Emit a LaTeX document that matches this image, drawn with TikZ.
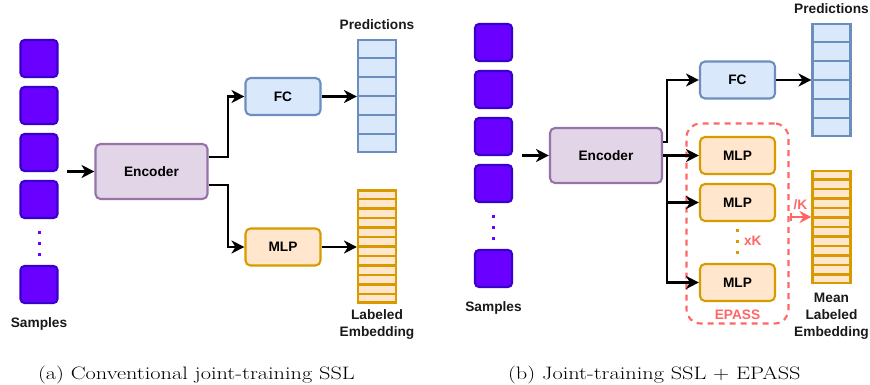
\documentclass[tikz,border=0pt]{standalone}
\usepackage{fontspec}
\newfontfamily\lblfont{Liberation Sans}
\usetikzlibrary{arrows.meta, positioning, calc}
\definecolor{sampfill}{HTML}{6A00FF}
\definecolor{sampline}{HTML}{3700CC}
\definecolor{encfill}{HTML}{E1D5E7}
\definecolor{encline}{HTML}{9673A6}
\definecolor{fcfill}{HTML}{DAE8FC}
\definecolor{fcline}{HTML}{6C8EBF}
\definecolor{mlpfill}{HTML}{FFE6CC}
\definecolor{mlpline}{HTML}{D79B00}
\definecolor{epred}{HTML}{FF6666}

\begin{document}
\begin{tikzpicture}[x=1pt, y=-1pt, line width=2.1pt,
    font=\lblfont\fontsize{13.7}{17}\selectfont\bfseries,
    sample/.style = {draw=sampline, fill=sampfill, rounded corners=4pt, minimum size=37pt, inner sep=0pt},
    block/.style = {draw, rounded corners=5pt, minimum width=75pt, minimum height=37pt, inner sep=0pt},
    enc/.style = {block, draw=encline, fill=encfill, minimum width=112pt, minimum height=55pt},
    fc/.style = {block, draw=fcline, fill=fcfill},
    mlp/.style = {block, draw=mlpline, fill=mlpfill},
    stack/.style = {draw, minimum width=38pt, minimum height=112pt, inner sep=0pt},
    lbl/.style = {align=center, inner sep=0pt, text=black!90},
    redlbl/.style = {inner sep=0pt, text=epred},
    arr/.style = {-{Stealth[length=13pt, width=13pt, inset=4pt]}},
    karr/.style = {draw=epred, {Bar[width=8pt]}-{Stealth[length=12pt, width=12pt, inset=4pt]}},
    epassbox/.style = {draw=epred, dash pattern=on 6pt off 5pt, rounded corners=14pt,
                       minimum width=102pt, minimum height=200pt, inner sep=0pt},
    caption/.style = {font=\normalfont\fontsize{18}{21}\selectfont, inner sep=0pt, anchor=base west}]
    \useasboundingbox (0,0) rectangle (870,385);

    % (a) conventional joint training
    \foreach \y [count=\i] in {58.5,105.5,152.5,199.5,284.5}
        \node[sample] (sA\i) at (39,\y) {};
    \foreach \y in {232,243,254}
        \fill[sampfill] (37.5,\y-1.5) rectangle ++(3,3);
    \node[lbl, below=12pt of sA5] (sampA) {Samples};

    \node[enc] (encA) at (151.5,171.5) {Encoder};
    \node[fc] (fcA) at (283,96.5) {FC};
    \node[mlp] (mlpA) at (283,247) {MLP};
    \node[stack, draw=fcline, fill=fcfill] (predA) at (377,96) {};
    \node[stack, draw=mlpline, fill=mlpfill] (embA) at (377,246.5) {};
    \node[lbl, above=8pt of predA] (predAlbl) {Predictions};
    \node[lbl, below=5pt of embA] (embAlbl) {Labeled\\Embedding};

    \coordinate (inA) at (67,171.5);
    \draw[arr] (inA) -- (encA.west);
    \draw[arr] ([yshift=14.5pt]encA.east) -- ++(19,0) |- (fcA.west);
    \draw[arr] ([yshift=-13.5pt]encA.east) -- ++(19,0) |- (mlpA.west);
    \draw[arr] (fcA.east) -- (fcA.east -| predA.west);
    \draw[arr] (mlpA.east) -- (mlpA.east -| embA.west);

    % (b) joint training + EPASS
    \foreach \y [count=\i] in {42.5,89.5,136.5,183.5,268.5}
        \node[sample] (sB\i) at (493.5,\y) {};
    \foreach \y in {216,227,238}
        \fill[sampfill] (492,\y-1.5) rectangle ++(3,3);
    \node[lbl, below=12pt of sB5] (sampB) {Samples};

    \node[enc] (encB) at (606,155.5) {Encoder};
    \node[epassbox] (epass) at (737.5,223.5) {};
    \node[redlbl, above=4pt of epass.south] (epasslbl) {EPASS};
    \node[fc] (fcB) at (737.5,80) {FC};
    \node[mlp] (mlpB1) at (737.5,155.5) {MLP};
    \node[mlp] (mlpB2) at (737.5,202.5) {MLP};
    \node[mlp] (mlpB3) at (737.5,282.5) {MLP};
    \foreach \y in {230,241,252}
        \fill[mlpline] (735.5,\y-1.5) rectangle ++(3,3);
    \node[redlbl, anchor=west] (xk) at (743,241) {xK};
    \node[stack, draw=fcline, fill=fcfill] (predB) at (831.5,80) {};
    \node[stack, draw=mlpline, fill=mlpfill] (embB) at (831.5,227) {};
    \node[lbl, above=8pt of predB] (predBlbl) {Predictions};
    \node[lbl, below=8pt of embB] (embBlbl) {Mean\\Labeled\\Embedding};

    \coordinate (inB) at (522,155.5);
    \coordinate (trunk) at ($(encB.east)+(4,0)$);
    \draw[arr] (inB) -- (encB.west);
    \draw[arr] ([yshift=13.5pt]encB.east) -- ++(4,0) |- (fcB.west);
    \draw[arr] (encB.east) -- (mlpB1.west);
    \draw[arr] (trunk) |- (mlpB2.west);
    \draw[arr] (trunk) |- (mlpB3.west);
    \draw[arr] (fcB.east) -- (fcB.east -| predB.west);
    \draw[karr] ([yshift=6.5pt]epass.east) -- ([yshift=6.5pt]epass.east -| embB.west)
        node[redlbl, midway, above=6pt] (kdiv) {/K};

    % cells of the stacks
    \foreach \s/\n/\c in {predA/6/fcline, predB/6/fcline, embA/12/mlpline, embB/12/mlpline} {
        \pgfmathtruncatemacro\m{\n-1}
        \foreach \k in {1,...,\m}
            \draw[\c] ($(\s.north west)!\k/\n!(\s.south west)$) -- ($(\s.north east)!\k/\n!(\s.south east)$);
    }

    \node[caption] (capA) at (37,379) {\scalebox{1.24}[1]{(a) Conventional joint-training SSL}};
    \node[caption] (capB) at (507,379) {\scalebox{1.24}[1]{(b) Joint-training SSL + EPASS}};
\end{tikzpicture}
\end{document}
